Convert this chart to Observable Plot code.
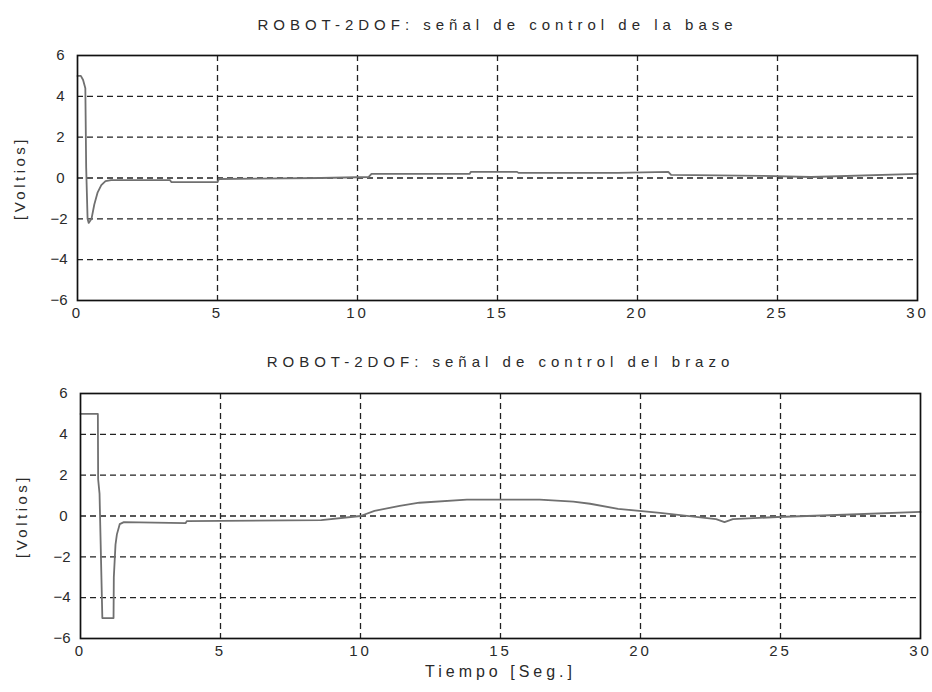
<!DOCTYPE html>
<html><head><meta charset="utf-8">
<script src="https://cdn.jsdelivr.net/npm/d3@7"></script>
<script src="https://cdn.jsdelivr.net/npm/@observablehq/plot@0.6"></script>
<style>
body{margin:0;background:#fff;}
#wrap{position:relative;width:932px;height:692px;font-family:"Liberation Sans",Arial,sans-serif;}
#wrap svg{position:absolute;left:0;}
</style></head><body><div id="wrap"></div>
<script>
// Base (top panel)
const baseTime  = [0, 0.12, 0.2, 0.28, 0.31, 0.36, 0.4, 0.5, 0.6, 0.72, 0.85, 1.0, 1.2, 3.3, 3.35, 5.0, 5.05, 8.7, 10.4, 10.5, 14.0, 14.05, 15.7, 15.75, 19.3, 21.1, 21.2, 24.5, 26.2, 30];
const baseVolts = [5, 5, 4.8, 4.4, 0.5, -2.0, -2.2, -2.0, -1.3, -0.7, -0.35, -0.15, -0.1, -0.1, -0.2, -0.2, -0.05, 0, 0.05, 0.2, 0.2, 0.3, 0.3, 0.25, 0.25, 0.3, 0.15, 0.1, 0.05, 0.2];
// Arm (bottom panel)
const armTime  = [0, 0.62, 0.63, 0.68, 0.78, 1.18, 1.19, 1.25, 1.3, 1.4, 1.55, 3.75, 3.8, 8.6, 10.0, 10.5, 11.4, 12.1, 13.8, 16.4, 17.6, 18.2, 19.2, 20.7, 22.7, 23.0, 23.3, 24.9, 27, 30];
const armVolts = [5, 5, 1.8, 1.1, -5, -5, -3.0, -1.4, -0.9, -0.4, -0.3, -0.35, -0.25, -0.2, 0, 0.25, 0.5, 0.65, 0.8, 0.8, 0.7, 0.6, 0.35, 0.15, -0.15, -0.3, -0.15, -0.05, 0.05, 0.2];

const xTicks = [0, 5, 10, 15, 20, 25, 30];
const yTicks = [-6, -4, -2, 0, 2, 4, 6];
const titles = ["ROBOT-2DOF: señal de control de la base", "ROBOT-2DOF: señal de control del brazo"];
const yLabel = "[Voltios]";
const xLabel = "Tiempo [Seg.]";

const FONT = '"Liberation Sans", Arial, sans-serif';
const INK = "#2a2a2a";

function panel(time, volts, title, o) {
  const data = time.map((t, i) => ({t, v: volts[i]}));
  const marks = [
    Plot.gridX(xTicks.filter(d => d > 0 && d < 30), {stroke: "#222", strokeOpacity: 1, strokeWidth: 1.3, strokeDasharray: "6,4"}),
    Plot.gridY(yTicks.filter(d => d > -6 && d < 6), {stroke: "#222", strokeOpacity: 1, strokeWidth: 1.3, strokeDasharray: "6,4"}),
    Plot.line(data, {x: "t", y: "v", stroke: "#707070", strokeWidth: 1.8}),
    Plot.frame({stroke: "#111", strokeWidth: 1.7}),
    Plot.axisX(xTicks, {tickSize: 0, tickPadding: o.xPad, fontSize: 15, fill: INK, label: null}),
    Plot.axisY(yTicks, {tickSize: 0, tickPadding: 10, fontSize: 15, fill: INK, label: null}),
    Plot.text([title], {frameAnchor: "top", dy: o.titleDy, fontSize: 15, fill: INK, lineAnchor: "middle"}),
    Plot.text([yLabel], {frameAnchor: "left", dx: o.yLabDx, rotate: -90, textAnchor: "middle", fontSize: 15, fill: INK, lineAnchor: "middle"})
  ];
  if (o.xLabel) marks.push(Plot.text([xLabel], {frameAnchor: "bottom", dy: 33, fontSize: 16, fill: INK, lineAnchor: "middle"}));
  const svg = Plot.plot({
    width: 932, height: o.height,
    marginTop: o.mt, marginBottom: o.mb, marginLeft: o.ml, marginRight: o.mr,
    x: {domain: [0, 30]}, y: {domain: [-6, 6]},
    style: {fontFamily: FONT, background: "transparent", overflow: "visible"},
    marks
  });
  svg.style.top = o.top + "px";
  const spacing = new Map([[title, "5px"], [yLabel, "3.5px"], [xLabel, "4px"]]);
  d3.select(svg).selectAll("text").each(function() {
    const el = d3.select(this);
    const txt = el.text();
    if (spacing.has(txt)) el.attr("letter-spacing", spacing.get(txt));
    else if (/^\d+$/.test(txt)) el.attr("letter-spacing", "3px");
  });
  return svg;
}

const wrap = document.getElementById("wrap");
wrap.appendChild(panel(baseTime, baseVolts, titles[0], {top: 0, height: 340, mt: 55, mb: 40, ml: 77, mr: 15, titleDy: -30, yLabDx: -57, xPad: 7}));
wrap.appendChild(panel(armTime, armVolts, titles[1], {top: 340, height: 352, mt: 53, mb: 54, ml: 80, mr: 12, titleDy: -31, yLabDx: -58, xPad: 7, xLabel: true}));
</script></body></html>
